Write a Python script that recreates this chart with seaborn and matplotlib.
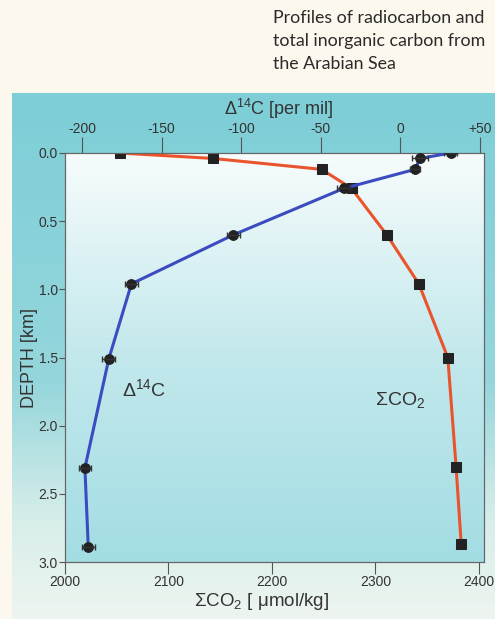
import numpy as np
import pandas as pd
import matplotlib
matplotlib.use("Agg")
import matplotlib.pyplot as plt
from matplotlib.colors import LinearSegmentedColormap
import seaborn as sns

# Depth profiles (km) from the Arabian Sea
c14_depth = [0.00, 0.04, 0.12, 0.26, 0.60, 0.96, 1.51, 2.31, 2.89]
c14_value = [31.5, 12.3, 9.2, -35.6, -104.8, -168.9, -183.1, -198.1, -196.0]
c14_err = [4, 5, 3, 4, 4, 4, 4, 4, 4]

co2_depth = [0.00, 0.04, 0.12, 0.26, 0.60, 0.96, 1.50, 2.30, 2.87]
co2_value = [2053, 2143, 2248, 2277, 2311, 2342, 2370, 2378, 2383]

depth_ticks = [0.0, 0.5, 1.0, 1.5, 2.0, 2.5, 3.0]
depth_labels = ["0.0", "0.5", "1.0", "1.5", "2.0", "2.5", "3.0"]
co2_ticks = [2000, 2100, 2200, 2300, 2400]
c14_ticks = [-200, -150, -100, -50, 0, 50]
c14_labels = ["-200", "-150", "-100", "-50", "0", "+50"]

c14_df = pd.DataFrame({"depth": c14_depth, "d14c": c14_value})
co2_df = pd.DataFrame({"depth": co2_depth, "sco2": co2_value})

sns.set_theme(style="white")
plt.rcParams["font.family"] = ["Liberation Sans", "DejaVu Sans"]
plt.rcParams["mathtext.fontset"] = "custom"
plt.rcParams["mathtext.rm"] = "Liberation Sans"
plt.rcParams["mathtext.it"] = "Liberation Sans:italic"

W, H = 495, 619
fig = plt.figure(figsize=(W / 100, H / 100), dpi=100, facecolor="#fcf8ee")

# teal backdrop panel behind the chart
bg = fig.add_axes([12 / W, 0, 1 - 12 / W, (H - 93) / H], zorder=-2)
bg_cmap = LinearSegmentedColormap.from_list(
    "panel", [(0.0, "#eef5f0"), (0.18, "#d8eeea"), (0.45, "#95d6dc"), (1.0, "#7dced7")])
bg.imshow(np.linspace(0, 1, 256).reshape(-1, 1), cmap=bg_cmap, aspect="auto",
          origin="lower", extent=[0, 1, 0, 1])
bg.set_axis_off()

ax = fig.add_axes([65 / W, 1 - 562 / H, (484 - 65) / W, (562 - 153) / H])
plot_cmap = LinearSegmentedColormap.from_list(
    "plotarea", [(0.0, "#a3dde4"), (0.5, "#c2e8ec"), (1.0, "#f7fcfc")])
ax.imshow(np.linspace(0, 1, 256).reshape(-1, 1), cmap=plot_cmap, aspect="auto",
          origin="lower", extent=[0, 1, 0, 1], transform=ax.transAxes, zorder=0)

# total inorganic carbon profile (bottom axis)
sns.lineplot(data=co2_df, x="sco2", y="depth", sort=False, orient="y", ax=ax,
             color="#e9542c", lw=2.2, zorder=3,
             marker="s", markersize=6.5, markerfacecolor="#222222",
             markeredgecolor="#222222")
ax.set_xlim(2000, 2405)
ax.set_ylim(3.0, 0.0)
ax.set_yticks(depth_ticks, depth_labels)
ax.set_xticks(co2_ticks)
ax.tick_params(axis="y", direction="out", length=4.3, width=0.8, color="#555555",
               labelsize=10, labelcolor="#333333", pad=1, left=True)
ax.tick_params(axis="x", direction="out", length=8.6, width=0.8, color="#555555",
               labelsize=10, labelcolor="#333333", pad=1, bottom=True)
ax.set_xlabel("ΣCO$_2$ [ μmol/kg]", fontsize=13.5, color="#333333")
ax.xaxis.set_label_coords(0.47, -0.072)
ax.set_ylabel("DEPTH [km]", fontsize=13, color="#333333", labelpad=0)
for s in ax.spines.values():
    s.set_color("#666666")
    s.set_linewidth(0.8)

# radiocarbon profile (top axis)
ax2 = ax.twiny()
ax2.errorbar(c14_value, c14_depth, xerr=c14_err, fmt="none", ecolor="#333333",
             elinewidth=1.0, capsize=2, zorder=4)
sns.lineplot(data=c14_df, x="d14c", y="depth", sort=False, orient="y", ax=ax2,
             color="#3b4cc0", lw=2.2, zorder=3,
             marker="o", markersize=7, markerfacecolor="#222222",
             markeredgecolor="#222222")
ax2.set_xlim(-210.6, 52.5)
ax2.set_ylim(3.0, 0.0)
ax2.set_xticks(c14_ticks, c14_labels)
ax2.tick_params(axis="x", direction="out", length=11.5, width=0.8, color="#555555",
                labelsize=10, labelcolor="#333333", pad=1, top=True)
ax2.set_xlabel("Δ$^{14}$C [per mil]", fontsize=13, color="#333333")
ax2.xaxis.set_label_coords(0.51, 1.092)
ax2.set_ylabel("")
for s in ax2.spines.values():
    s.set_color("#666666")
    s.set_linewidth(0.8)

ax.text(0.135, 0.405, "Δ$^{14}$C", transform=ax.transAxes, fontsize=14,
        color="#333333")
ax.text(0.74, 0.385, "ΣCO$_2$", transform=ax.transAxes, fontsize=14,
        color="#333333")

fig.text(273 / W, 1 - 10 / H,
         "Profiles of radiocarbon and\ntotal inorganic carbon from\nthe Arabian Sea",
         ha="left", va="top", fontsize=12.8, family=["Lato", "DejaVu Sans"],
         color="#2a2a2a", linespacing=1.55)

fig.savefig("out.png", dpi=100, facecolor=fig.get_facecolor())
